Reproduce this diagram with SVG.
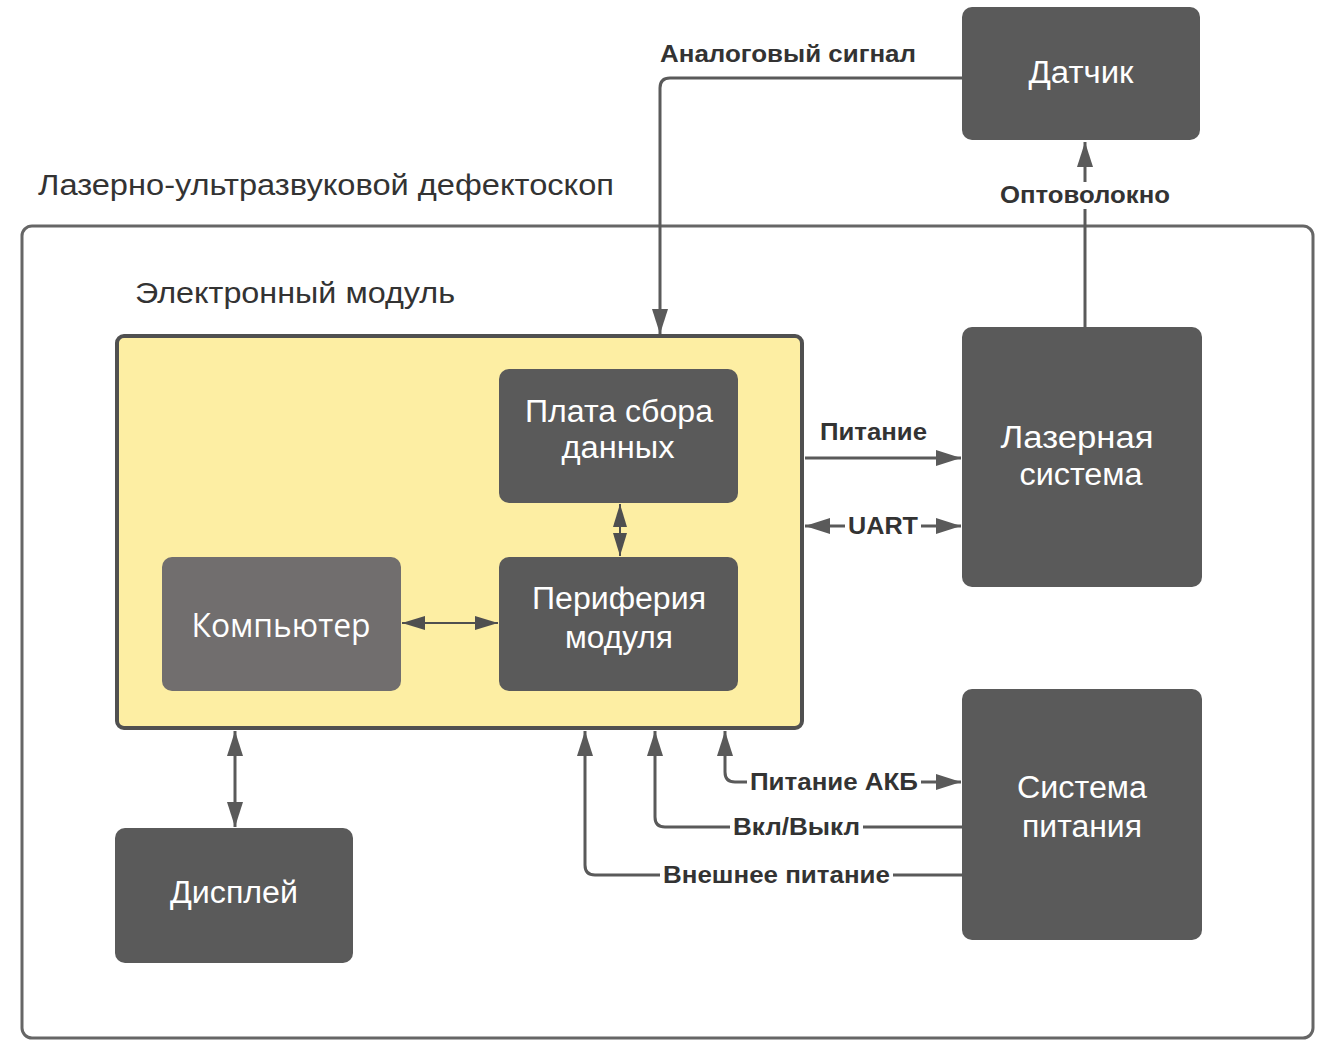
<svg xmlns="http://www.w3.org/2000/svg" width="1324" height="1040" viewBox="0 0 1324 1040">
<style>
.node{fill:#5a5a5a}
.ntext{fill:#ffffff;font-family:"Liberation Sans",Arial,sans-serif;font-size:31px;text-anchor:middle}
.lbl{fill:#333333;font-family:"Liberation Sans",Arial,sans-serif;font-size:23px;font-weight:bold}
.title{fill:#333333;font-family:"Liberation Sans",Arial,sans-serif;font-size:30px}
.conn{fill:none;stroke:#5a5a5a;stroke-width:3}
.thin{fill:none;stroke:#4f4f4f;stroke-width:2}
.bg{fill:#ffffff}
</style>
<defs>
<marker id="ah" markerUnits="userSpaceOnUse" markerWidth="26" markerHeight="18" refX="25" refY="9" orient="auto-start-reverse">
<path d="M0,1 L25,9 L0,17 z" fill="#5a5a5a"/>
</marker>
<marker id="ahs" markerUnits="userSpaceOnUse" markerWidth="24" markerHeight="16" refX="23" refY="8" orient="auto-start-reverse">
<path d="M0,1 L23,8 L0,15 z" fill="#4f4f4f"/>
</marker>
</defs>
<rect width="1324" height="1040" fill="#ffffff"/>

<g id="frame">
<rect x="22" y="226" width="1291" height="812" rx="10" fill="none" stroke="#666666" stroke-width="3"/>
<text class="title" x="38" y="195" textLength="576" lengthAdjust="spacingAndGlyphs">Лазерно-ультразвуковой дефектоскоп</text>
</g>

<g id="electronic-module">
<rect x="117" y="336" width="685" height="392" rx="7" fill="#fdeea3" stroke="#505050" stroke-width="4"/>
<text class="title" x="135" y="303" textLength="320" lengthAdjust="spacingAndGlyphs">Электронный модуль</text>
</g>

<g id="sensor">
<rect class="node" x="962" y="7" width="238" height="133" rx="10"/>
<text class="ntext" x="1081" y="83" textLength="105" lengthAdjust="spacingAndGlyphs">Датчик</text>
</g>

<g id="daq-board">
<rect class="node" x="499" y="369" width="239" height="134" rx="10"/>
<text class="ntext" x="619" y="422" textLength="188" lengthAdjust="spacingAndGlyphs">Плата сбора</text>
<text class="ntext" x="618" y="458" textLength="113" lengthAdjust="spacingAndGlyphs">данных</text>
</g>

<g id="periphery">
<rect class="node" x="499" y="557" width="239" height="134" rx="10"/>
<text class="ntext" x="619" y="609" textLength="174" lengthAdjust="spacingAndGlyphs">Периферия</text>
<text class="ntext" x="619" y="648" textLength="108" lengthAdjust="spacingAndGlyphs">модуля</text>
</g>

<g id="computer">
<rect x="162" y="557" width="239" height="134" rx="10" fill="#716e6e"/>
<text x="281" y="637" fill="#ffffff" font-family="'Open Sans','Noto Sans',sans-serif" font-size="32" text-anchor="middle" textLength="179" lengthAdjust="spacingAndGlyphs">Компьютер</text>
</g>

<g id="display">
<rect class="node" x="115" y="828" width="238" height="135" rx="10"/>
<text class="ntext" x="234" y="903" textLength="128" lengthAdjust="spacingAndGlyphs">Дисплей</text>
</g>

<g id="laser-system">
<rect class="node" x="962" y="327" width="240" height="260" rx="10"/>
<text class="ntext" x="1077" y="448" textLength="153" lengthAdjust="spacingAndGlyphs">Лазерная</text>
<text class="ntext" x="1081" y="485" textLength="123" lengthAdjust="spacingAndGlyphs">система</text>
</g>

<g id="power-system">
<rect class="node" x="962" y="689" width="240" height="251" rx="10"/>
<text class="ntext" x="1082" y="798" textLength="130" lengthAdjust="spacingAndGlyphs">Система</text>
<text class="ntext" x="1082" y="837" textLength="120" lengthAdjust="spacingAndGlyphs">питания</text>
</g>

<g id="connectors">
<path class="conn" d="M962,78 H670 Q660,78 660,88 V334" marker-end="url(#ah)"/>
<path class="conn" d="M1085,327 V142" marker-end="url(#ah)"/>
<path class="conn" d="M805,458 H961" marker-end="url(#ah)"/>
<path class="conn" d="M805,526 H961" marker-start="url(#ah)" marker-end="url(#ah)"/>
<path class="thin" d="M620,504 V556" marker-start="url(#ahs)" marker-end="url(#ahs)"/>
<path class="thin" d="M402,623 H498" marker-start="url(#ahs)" marker-end="url(#ahs)"/>
<path class="conn" d="M235,731 V827" marker-start="url(#ah)" marker-end="url(#ah)"/>
<path class="conn" d="M961,782 H735 Q725,782 725,772 V731" marker-start="url(#ah)" marker-end="url(#ah)"/>
<path class="conn" d="M962,827 H665 Q655,827 655,817 V731" marker-end="url(#ah)"/>
<path class="conn" d="M962,875 H595 Q585,875 585,865 V731" marker-end="url(#ah)"/>

<rect class="bg" x="996" y="182" width="178" height="27"/>
<rect class="bg" x="845" y="511" width="76" height="30"/>
<rect class="bg" x="747" y="767" width="174" height="30"/>
<rect class="bg" x="730" y="812" width="133" height="30"/>
<rect class="bg" x="660" y="860" width="233" height="30"/>

<text class="lbl" x="660" y="62" textLength="256" lengthAdjust="spacingAndGlyphs">Аналоговый сигнал</text>
<text class="lbl" x="1000" y="203" textLength="170" lengthAdjust="spacingAndGlyphs">Оптоволокно</text>
<text class="lbl" x="820" y="440" textLength="107" lengthAdjust="spacingAndGlyphs">Питание</text>
<text class="lbl" x="848" y="534" textLength="70" lengthAdjust="spacingAndGlyphs">UART</text>
<text class="lbl" x="750" y="790" textLength="168" lengthAdjust="spacingAndGlyphs">Питание АКБ</text>
<text class="lbl" x="733" y="835" textLength="127" lengthAdjust="spacingAndGlyphs">Вкл/Выкл</text>
<text class="lbl" x="663" y="883" textLength="227" lengthAdjust="spacingAndGlyphs">Внешнее питание</text>
</g>
</svg>
